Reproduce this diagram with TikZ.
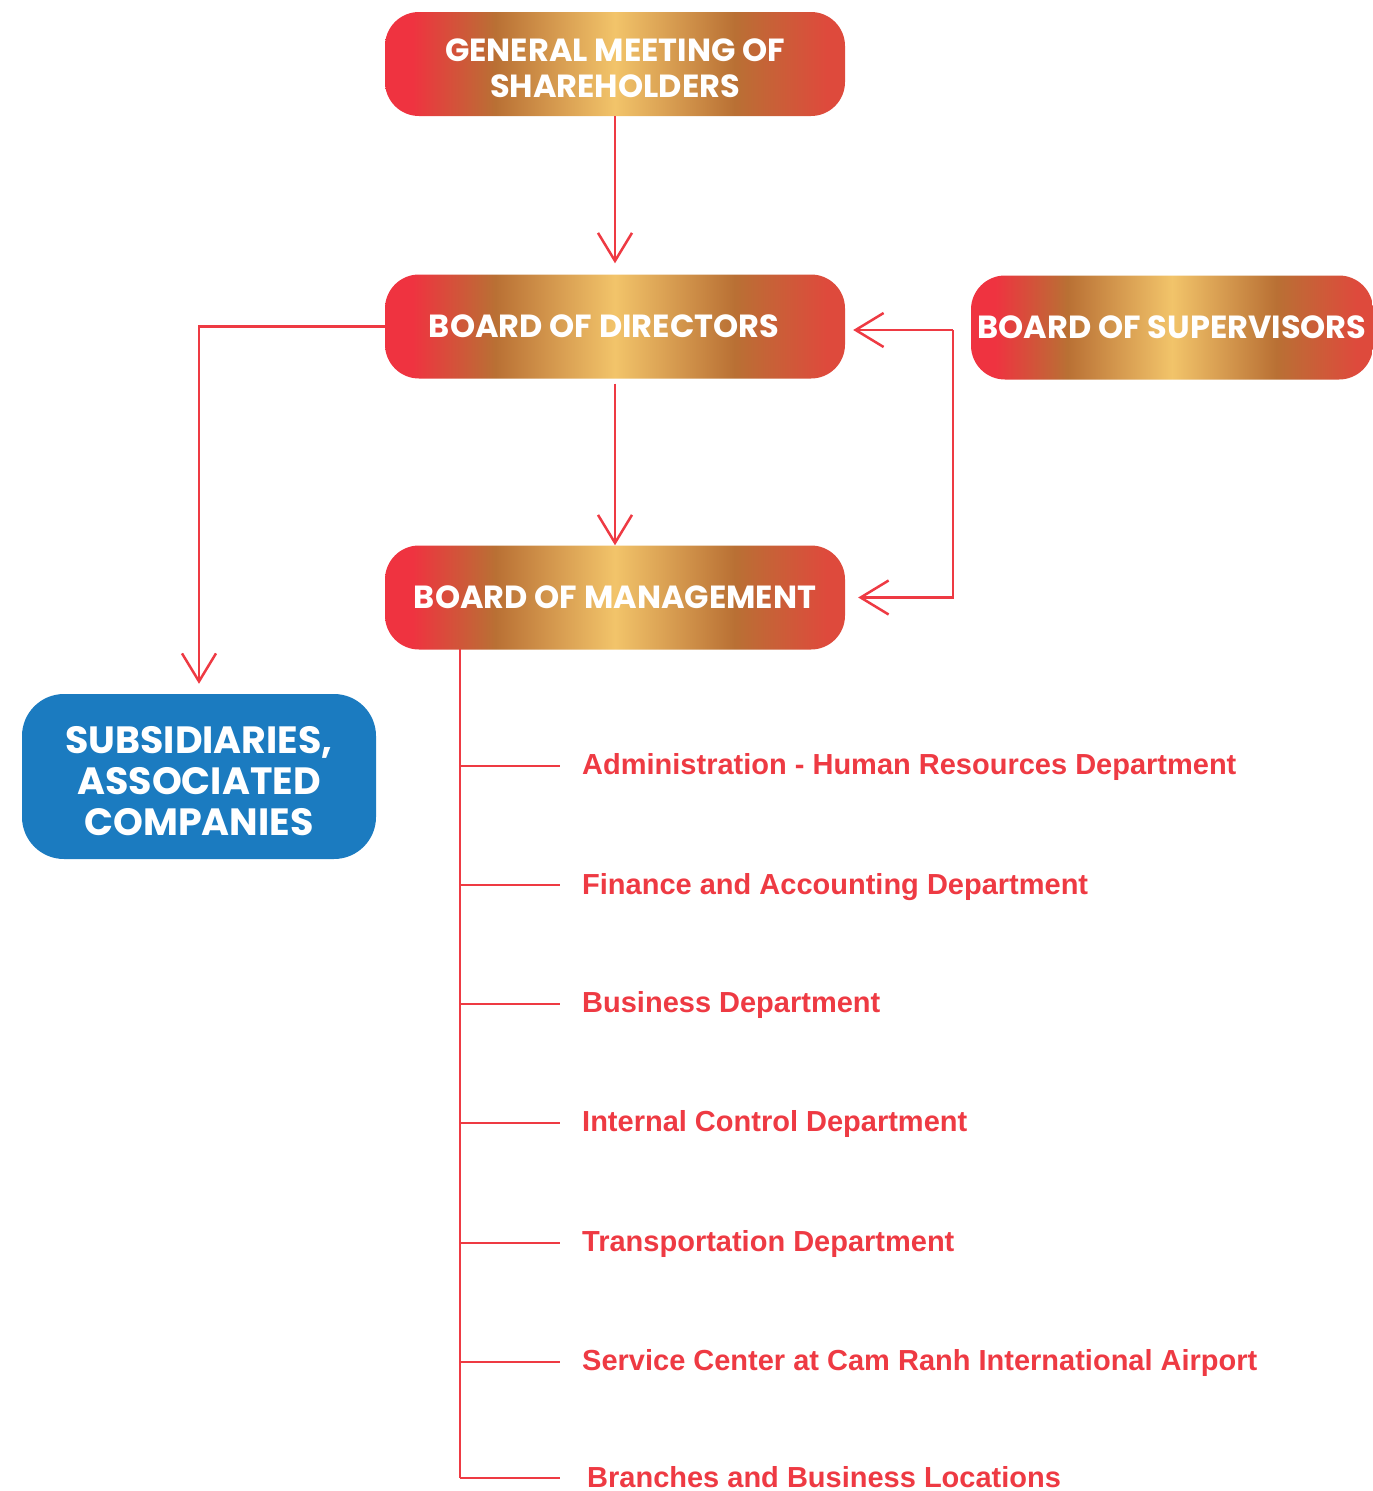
\documentclass[tikz,border=0pt]{standalone}
\usepackage{fontspec}
\setmainfont{Liberation Sans}
\newfontfamily\boxfont{Poppins}
\usetikzlibrary{arrows.meta}
\definecolor{cred}{RGB}{239,51,64}
\definecolor{credb}{RGB}{222,74,60}
\definecolor{cbrown}{RGB}{185,112,52}
\definecolor{cgold}{RGB}{242,196,106}
\definecolor{cblue}{RGB}{27,123,192}
\definecolor{cline}{RGB}{238,58,67}
\pgfdeclarehorizontalshading{goldred}{100bp}{color(0bp)=(cred); color(25bp)=(cred); color(28bp)=(cred); color(37bp)=(cbrown); color(50bp)=(cgold); color(63bp)=(cbrown); color(73bp)=(credb); color(75bp)=(credb); color(100bp)=(credb)}
\newcommand{\lowertext}[2]{\raisebox{-#1}[0pt][0pt]{\begin{tabular}{@{}c@{}}#2\end{tabular}}}
\begin{document}
\begin{tikzpicture}[x=1pt,y=-1pt,
  mainbox/.style={shading=goldred, rounded corners=34pt, minimum width=460pt, minimum height=104pt, text=white, font=\boxfont\bfseries\fontsize{32}{36}\selectfont, align=center, inner sep=0pt},
  subbox/.style={fill=cblue, rounded corners=42pt, minimum width=354pt, minimum height=165pt, text=white, font=\boxfont\bfseries\fontsize{38}{41}\selectfont, align=center, inner sep=0pt},
  conn/.style={draw=cline, line width=2.5pt, -{Straight Barb[length=28pt,width=34pt]}},
  plain/.style={draw=cline, line width=2.5pt},
  dept/.style={anchor=west, text=cline, font=\bfseries\fontsize{29}{34}\selectfont, inner sep=0pt}]
\useasboundingbox (0,0) rectangle (1373,1491);
\node[mainbox] (gms) at (615,64) {\lowertext{15pt}{GENERAL MEETING OF\\SHAREHOLDERS}};
\node[mainbox] (bod) at (615,326.5) {\hspace*{-22pt}BOARD OF DIRECTORS};
\node[mainbox, minimum width=402pt] (bos) at (1172,327.5) {BOARD OF SUPERVISORS};
\node[mainbox] (bom) at (615,597.5) {BOARD OF MANAGEMENT};
\node[subbox] (sub) at (199,776.5) {\lowertext{16.5pt}{SUBSIDIARIES,\\ASSOCIATED\\COMPANIES}};
% connectors
\draw[conn, shorten >=11pt] (gms.south) -- (bod.north);
\draw[conn, shorten <=5pt] (bod.south) -- (bom.north);
\draw[conn, shorten >=10pt] (bod.west) -- (bod.west -| sub.north) -- (sub.north);
\coordinate (brk) at (953,330);
\draw[conn, shorten >=8pt] (brk) -- (brk -| bod.east);
\draw[conn, shorten >=13pt] (brk) |- (bom.east);
% departments
\coordinate (trunktop) at (460,649);
\coordinate (trunkend) at (460,1478);
\draw[plain] (trunktop) -- (trunkend);
\foreach \y/\n/\t/\dx/\dy in {
  766/d1/{Administration - Human Resources Department}/0/1,
  885/d2/{Finance and Accounting Department}/0/2,
  1004/d3/{Business Department}/0/1,
  1123/d4/{Internal Control Department}/0/1,
  1243/d5/{Transportation Department}/0/1,
  1362/d6/{Service Center at Cam Ranh International Airport}/0/1,
  1478/d7/{Branches and Business Locations}/5/-1}{
  \coordinate (\n s) at (460,\y);
  \coordinate (\n e) at (560,\y);
  \node[dept] (\n) at (582+\dx,\y+\dy) {\t};
  \draw[plain] (\n s) -- (\n e);
}
\end{tikzpicture}
\end{document}
